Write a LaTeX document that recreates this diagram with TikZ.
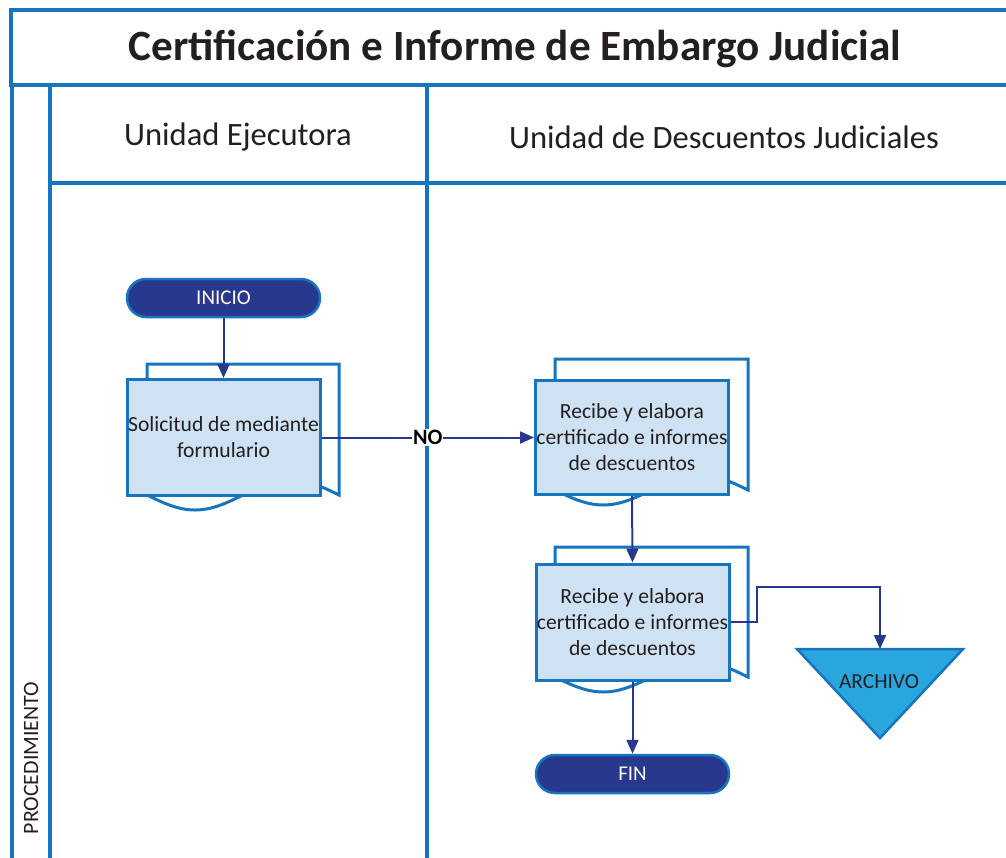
\documentclass[tikz,border=0pt]{standalone}
\usepackage{fontspec}
\setmainfont{Carlito}
\usetikzlibrary{arrows.meta}
\definecolor{lane}{RGB}{23,117,192}
\definecolor{navy}{RGB}{40,56,140}
\definecolor{procfill}{RGB}{207,226,243}
\definecolor{archfill}{RGB}{41,166,222}
\definecolor{txt}{RGB}{35,31,32}
\begin{document}
\begin{tikzpicture}[x=1pt,y=-1pt,
 lanel/.style={draw=lane,line width=3.5pt},
 term/.style={draw=lane,fill=navy,line width=2.5pt,rounded corners=19pt,minimum width=193pt,minimum height=38pt,inner sep=0pt,text=white,font=\fontsize{21}{24}\selectfont},
 proc/.style={draw=lane,fill=procfill,line width=3pt,minimum width=193pt,inner sep=0pt,align=center,text=txt,font=\fontsize{21.6}{26}\selectfont},
 backdoc/.style={draw=lane,fill=white,line width=3pt},
 conn/.style={draw=navy,line width=2pt,-{Triangle[length=14pt,width=12pt]}},
 hdr/.style={text=txt,font=\fontsize{32.6}{38}\selectfont},
]
\useasboundingbox (0,0) rectangle (1006,857);
% swimlane frame
\draw[lanel] (11,85) -- (11,10) -- (1010,10);
\draw[lanel] (9,85) -- (1010,85);
\draw[lanel] (12,85) -- (12,860);
\draw[lanel] (50,85) -- (50,860);
\draw[lanel] (427,85) -- (427,860);
\draw[lanel] (50,183) -- (1010,183);
\node[text=txt,font=\fontsize{43.2}{50}\selectfont\bfseries] (title) at (515,49) {Certificación e Informe de Embargo Judicial};
\node[hdr] (h1) at (238,137) {Unidad Ejecutora};
\node[hdr] (h2) at (724,137) {Unidad de Descuentos Judiciales};
\node[text=txt,rotate=90,font=\fontsize{21.9}{24}\selectfont] (proc) at (31,758) {PROCEDIMIENTO};
% shapes
\node[term] (inicio) at (223.5,298) {INICIO};
\draw[backdoc] (147,495) -- (147,364) -- (339,364) -- (339,495) sin (291,480) cos (243,495) sin (195,510) cos (147,495) -- cycle;
\node[proc,minimum height=116pt] (sol) at (223.5,437.5) {Solicitud de mediante\\formulario};
\draw[backdoc] (555,490) -- (555,359) -- (748,359) -- (748,490) sin (699.75,475) cos (651.5,490) sin (603.25,505) cos (555,490) -- cycle;
\node[proc,minimum height=114pt] (rec1) at (632,437.5) {Recibe y elabora\\certificado e informes\\de descuentos};
\draw[backdoc] (555,677) -- (555,547) -- (748,547) -- (748,677) sin (699.75,662) cos (651.5,677) sin (603.25,692) cos (555,677) -- cycle;
\node[proc,minimum height=116pt] (rec2) at (632.5,622) {Recibe y elabora\\certificado e informes\\de descuentos};
\node[term] (fin) at (632.5,774) {FIN};
\draw[draw=lane,fill=archfill,line width=2.5pt] (797,649) -- (963,649) -- (880,738) -- cycle;
\coordinate (archtop) at (880,649);
\coordinate (bend) at (757,587);
\node[text=txt,font=\fontsize{21.4}{24}\selectfont] (archivo) at (879,682) {ARCHIVO};
% connectors
\draw[conn] (inicio.south) -- (sol.north);
\draw[conn] (sol.east) -- node[fill=white,inner sep=1pt,text=black,font=\fontsize{22}{24}\selectfont\bfseries] (no) {NO} (rec1.west);
\draw[conn] (rec1.south) -- (rec2.north);
\draw[conn] (rec2.south) -- (fin.north);
\draw[conn] (rec2.east) -| (bend) -| (archtop);
\end{tikzpicture}
\end{document}
